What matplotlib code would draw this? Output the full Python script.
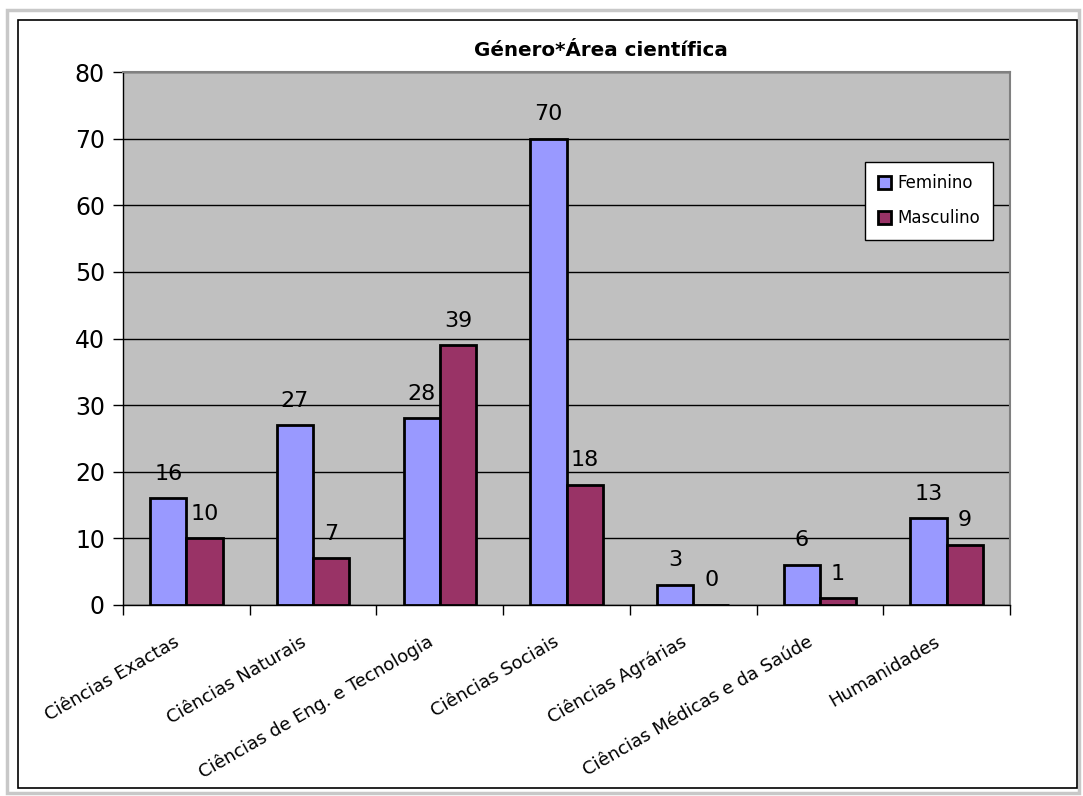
import matplotlib
matplotlib.use("Agg")
import matplotlib.pyplot as plt
from matplotlib.patches import Rectangle
import matplotlib.transforms as mtransforms
import numpy as np

categories = ["Ciências Exactas", "Ciências Naturais", "Ciências de Eng. e Tecnologia",
              "Ciências Sociais", "Ciências Agrárias", "Ciências Médicas e da Saúde",
              "Humanidades"]
feminino = [16, 27, 28, 70, 3, 6, 13]
masculino = [10, 7, 39, 18, 0, 1, 9]
series_names = ["Feminino", "Masculino"]
title = "Género*Área científica"
yticks = [0, 10, 20, 30, 40, 50, 60, 70, 80]

plt.rcParams['font.family'] = ['DejaVu Sans']

fig = plt.figure(figsize=(10.83, 7.96), dpi=100)
fig.patch.set_facecolor("white")

# outer light frame and inner black frame
fig.patches.append(Rectangle((7/1083, 1 - 793/796), 1072/1083, 783/796, transform=fig.transFigure,
                             fill=False, edgecolor="#c8c8c8", linewidth=2.5))
fig.patches.append(Rectangle((18/1083, 1 - 788/796), 1059/1083, 768/796, transform=fig.transFigure,
                             fill=False, edgecolor="black", linewidth=1.2))

ax = fig.add_axes([123/1083, 1 - 605/796, 887/1083, 533/796])
ax.set_facecolor("#C0C0C0")

x = np.arange(len(categories))
w = 36.2 / 126.7
b1 = ax.bar(x - w/2, feminino, w, color="#9999FF", edgecolor="black", linewidth=2, label=series_names[0], zorder=3)
b2 = ax.bar(x + w/2, masculino, w, color="#993366", edgecolor="black", linewidth=2, label=series_names[1], zorder=3)

for xs, vals in ((x - w/2, feminino), (x + w/2, masculino)):
    for xi, v in zip(xs, vals):
        ax.annotate(str(v), (xi, v), xytext=(0, 10.5), textcoords="offset points",
                    ha="center", va="bottom", fontsize=16)

ax.set_xlim(-0.5, len(categories) - 0.5)
ax.set_ylim(0, 80)
ax.set_yticks(yticks)
ax.set_yticklabels([str(t) for t in yticks], fontsize=17)
ax.yaxis.grid(True, color="black", linewidth=1, zorder=1)
ax.set_axisbelow(True)

ax.set_xticks(x)
ax.set_xticklabels(categories, rotation=30, ha="right", va="top", rotation_mode="anchor", fontsize=13)
ax.tick_params(axis="x", which="major", length=0, pad=20)
shift = mtransforms.ScaledTranslation(-13/100, 0, fig.dpi_scale_trans)
for lbl in ax.get_xticklabels():
    lbl.set_transform(lbl.get_transform() + shift)
ax.set_xticks(np.arange(-0.5, len(categories)), minor=True)
ax.tick_params(axis="x", which="minor", length=7, width=1, color="black", direction="out")
ax.tick_params(axis="y", length=7, width=1, color="black", direction="out", pad=6)

for s in ("top", "right"):
    ax.spines[s].set_color("#808080")
    ax.spines[s].set_linewidth(1.5)
for s in ("left", "bottom"):
    ax.spines[s].set_color("black")
    ax.spines[s].set_linewidth(1)

fig.text(601/1083, 1 - 50/796, title, ha="center", va="center", fontsize=14.3, fontweight="bold")

leg = fig.legend(handles=[b1, b2], loc="upper left", bbox_to_anchor=(865/1083, 1 - 162/796),
                 fontsize=12, frameon=True, fancybox=False, edgecolor="black", framealpha=1,
                 handlelength=0.8, handleheight=0.8, handletextpad=0.4, labelspacing=1.0,
                 borderpad=0.75, borderaxespad=0)
leg.get_frame().set_linewidth(1)

fig.savefig("out.png", dpi=100, facecolor="white")
